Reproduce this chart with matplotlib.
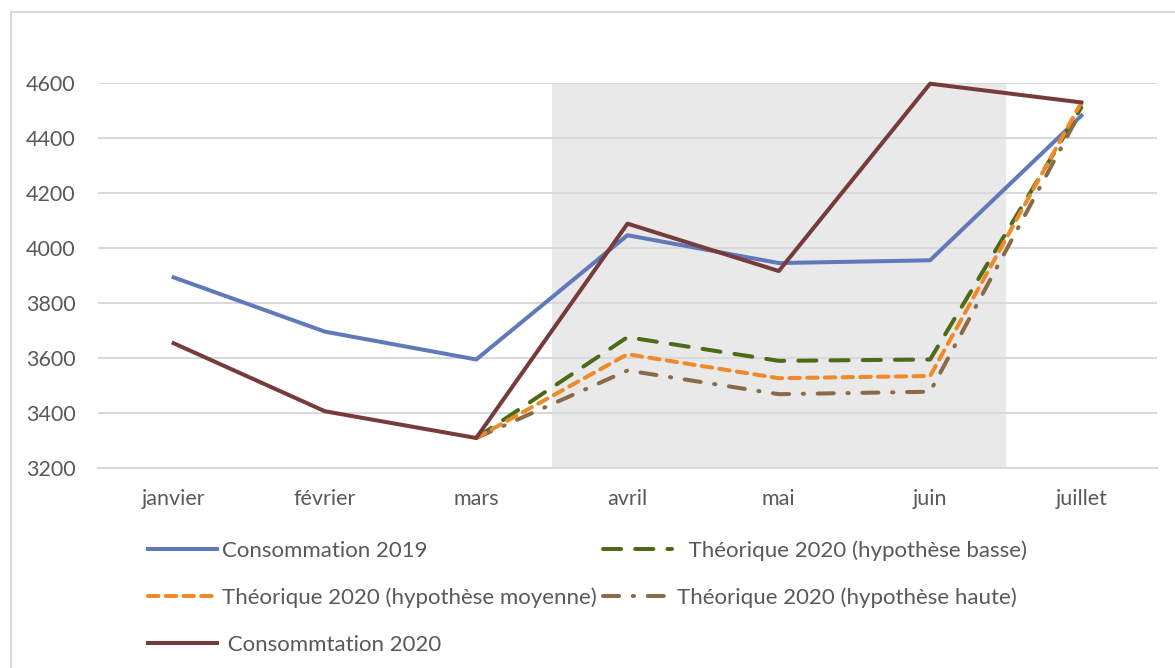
import matplotlib
matplotlib.use("Agg")
import matplotlib.pyplot as plt
import numpy as np

months = ["janvier", "février", "mars", "avril", "mai", "juin", "juillet"]
conso_2019 = [3893, 3696, 3595, 4046, 3945, 3955, 4480]
theo_basse = [np.nan, np.nan, 3310, 3676, 3590, 3595, 4510]
theo_moyenne = [np.nan, np.nan, 3310, 3614, 3527, 3535, 4528]
theo_haute = [np.nan, np.nan, 3310, 3555, 3469, 3478, 4500]
conso_2020 = [3654, 3407, 3310, 4088, 3916, 4596, 4528]
shade_start, shade_end = "mars", "juin"   # confinement period shading between these months
y_ticks = [3200, 3400, 3600, 3800, 4000, 4200, 4400, 4600]

labels = {
    "c19": "Consommation 2019",
    "basse": "  Théorique 2020 (hypothèse basse)",
    "moy": "Théorique 2020 (hypothèse moyenne)",
    "haute": "Théorique 2020 (hypothèse haute)",
    "c20": " Consommtation 2020",
}

plt.rcParams['font.family'] = ['Lato', 'DejaVu Sans']
W, H = 1175, 668
fig = plt.figure(figsize=(W / 100, H / 100), dpi=100)
fig.patch.set_facecolor("white")

# outer chart border
fig.add_artist(plt.Rectangle((10.5 / W, -0.1), 1.2, (H - 12.5) / H + 0.1,
                             transform=fig.transFigure, fill=False,
                             edgecolor="#D9D9D9", linewidth=1.5))

ax = fig.add_axes([98 / W, (H - 468.3) / H, (1157 - 98) / W, (468.3 - 82.6) / H])
x = np.arange(len(months))
ax.set_xlim(-0.5, len(months) - 0.5)
ax.set_ylim(y_ticks[0], y_ticks[-1])

i0 = months.index(shade_start)
i1 = months.index(shade_end)
ax.axvspan(i0 + 0.5, i1 + 0.5, color="#E9E9E9", zorder=0, lw=0)

ax.set_yticks(y_ticks)
ax.grid(axis="y", color="#D9D9D9", linewidth=1.5, zorder=0.5)
ax.set_axisbelow(True)
for s in ax.spines.values():
    s.set_visible(False)
ax.spines["bottom"].set_visible(True)
ax.spines["bottom"].set_color("#D9D9D9")
ax.spines["bottom"].set_linewidth(1.5)
ax.set_xticks(x)
ax.set_xticklabels(months)
ax.tick_params(axis="both", length=0, labelsize=15.5, labelcolor="#595959")
ax.tick_params(axis="y", pad=16)
ax.tick_params(axis="x", pad=15)

lw = 2.9
l19, = ax.plot(x, conso_2019, color="#5F79BA", lw=lw, solid_joinstyle="round",
               label=labels["c19"], clip_on=False, zorder=3)
lb, = ax.plot(x, theo_basse, color="#4E6A16", lw=lw, linestyle=(0, (4.5, 3.5)),
              dash_capstyle="round", label=labels["basse"], clip_on=False, zorder=4)
lm, = ax.plot(x, theo_moyenne, color="#EE8A2A", lw=lw, linestyle=(0, (2.6, 1.8)),
              dash_capstyle="round", label=labels["moy"], clip_on=False, zorder=5)
lh, = ax.plot(x, theo_haute, color="#8B6B47", lw=lw, linestyle=(0, (4.0, 3.4, 0.3, 3.4)),
              dash_capstyle="round", label=labels["haute"], clip_on=False, zorder=4)
l20, = ax.plot(x, conso_2020, color="#763B3B", lw=lw, solid_joinstyle="round",
               label=labels["c20"], clip_on=False, zorder=6)

handles = [l19, lm, l20, lb, lh]
leg = fig.legend(handles=handles, labels=[h.get_label() for h in handles],
                 ncol=2, loc="upper left", bbox_to_anchor=(148 / W, 1 - 540 / H),
                 frameon=False, fontsize=16, handlelength=3.1, handletextpad=0.25,
                 columnspacing=0.25, labelspacing=1.2, borderpad=0, borderaxespad=0)
for t in leg.get_texts():
    t.set_color("#595959")

fig.savefig("out.png", dpi=100, facecolor="white")
